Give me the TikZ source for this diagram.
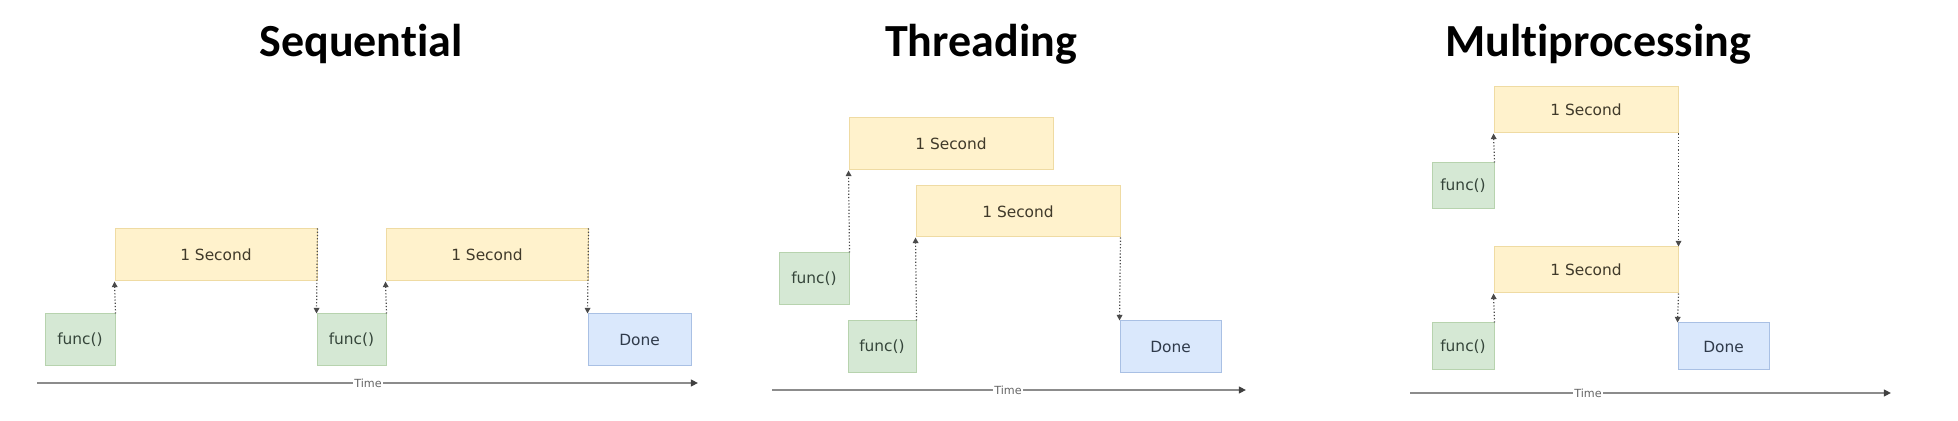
\documentclass[tikz,border=0pt]{standalone}
\usepackage{fontspec}
\setmainfont{DejaVu Sans}
\newfontfamily\titlefont[Ligatures=NoCommon]{Carlito}
\usetikzlibrary{arrows.meta}
\definecolor{gfill}{HTML}{D5E8D4}
\definecolor{gline}{HTML}{B7D3AE}
\definecolor{yfill}{HTML}{FFF2CC}
\definecolor{yline}{HTML}{EFDBA3}
\definecolor{bfill}{HTML}{DAE8FC}
\definecolor{bline}{HTML}{A9C0E4}
\definecolor{gtext}{HTML}{35453A}
\definecolor{ytext}{HTML}{403A2A}
\definecolor{btext}{HTML}{2F3A4A}
\definecolor{axisc}{HTML}{8C8C8C}
\definecolor{arrc}{HTML}{4A4A4A}
\tikzset{
  basebox/.style={draw, line width=0.5pt, inner sep=0pt, font=\fontsize{7.7}{8}\selectfont},
  funcbox/.style={basebox, fill=gfill, draw=gline, text=gtext},
  secbox/.style={basebox, fill=yfill, draw=yline, text=ytext},
  donebox/.style={basebox, fill=bfill, draw=bline, text=btext},
  flow/.style={draw=arrc, densely dotted, line width=0.6pt, -{Triangle[width=2.8pt,length=2.8pt]}},
  axisline/.style={draw=axisc, line width=1pt, -{Triangle[width=3.4pt,length=3.6pt,color=black!75]}},
  timelabel/.style={fill=white, inner sep=0.6pt, text=black!60, font=\fontsize{5.6}{6}\selectfont},
  title/.style={anchor=base, font=\titlefont\bfseries\fontsize{23}{26}\selectfont}
}
\newcommand\mybox[7]{\node[#6, minimum width={(#4-#2)*0.5pt}, minimum height={(#5-#3)*0.5pt}] (#1) at ({(#2+#4)/2},{(#3+#5)/2}) {#7};}
\begin{document}
\begin{tikzpicture}[x=0.5pt,y=-0.5pt]
\useasboundingbox[fill=white] (0,0) rectangle (1958,421);
% titles
\node[title] (t1) at (361,57) {Sequential};
\node[title] (t2) at (981,57) {Threading};
\node[title] (t3) at (1598,57) {Multiprocessing};
% Sequential
\mybox{sf1}{45}{314}{115}{366}{funcbox}{func()}
\mybox{ss1}{115}{229}{317}{281}{secbox}{1 Second}
\mybox{sf2}{317}{314}{386}{366}{funcbox}{func()}
\mybox{ss2}{386}{229}{588}{281}{secbox}{1 Second}
\mybox{sd}{588}{314}{691}{366}{donebox}{Done}
\draw[flow] (sf1.north east) -- (ss1.south west);
\draw[flow] (ss1.north east) -- (sf2.north west);
\draw[flow] (sf2.north east) -- (ss2.south west);
\draw[flow] (ss2.north east) -- (sd.north west);
\coordinate (sa0) at (37,383);
\coordinate (sa1) at (698,383);
\draw[axisline] (sa0) -- (sa1);
\node[timelabel] (stime) at (368,383) {Time};
% Threading
\mybox{tf1}{779}{253}{849}{305}{funcbox}{func()}
\mybox{ts1}{849}{118}{1053}{170}{secbox}{1 Second}
\mybox{ts2}{916}{186}{1120}{237}{secbox}{1 Second}
\mybox{tf2}{848}{321}{916}{373}{funcbox}{func()}
\mybox{td}{1120}{321}{1221}{373}{donebox}{Done}
\draw[flow] (tf1.north east) -- (ts1.south west);
\draw[flow] (tf2.north east) -- (ts2.south west);
\draw[flow] (ts2.south east) -- (td.north west);
\coordinate (ta0) at (772,390);
\coordinate (ta1) at (1246,390);
\draw[axisline] (ta0) -- (ta1);
\node[timelabel] (ttime) at (1008,390) {Time};
% Multiprocessing
\mybox{ms1}{1494}{87}{1678}{133}{secbox}{1 Second}
\mybox{mf1}{1432}{163}{1494}{209}{funcbox}{func()}
\mybox{ms2}{1494}{247}{1678}{293}{secbox}{1 Second}
\mybox{mf2}{1432}{323}{1494}{370}{funcbox}{func()}
\mybox{md}{1678}{323}{1769}{370}{donebox}{Done}
\draw[flow] (mf1.north east) -- (ms1.south west);
\draw[flow] (ms1.south east) -- (ms2.north east);
\draw[flow] (mf2.north east) -- (ms2.south west);
\draw[flow] (ms2.south east) -- (md.north west);
\coordinate (ma0) at (1410,393);
\coordinate (ma1) at (1891,393);
\draw[axisline] (ma0) -- (ma1);
\node[timelabel] (mtime) at (1588,393) {Time};
\end{tikzpicture}
\end{document}
